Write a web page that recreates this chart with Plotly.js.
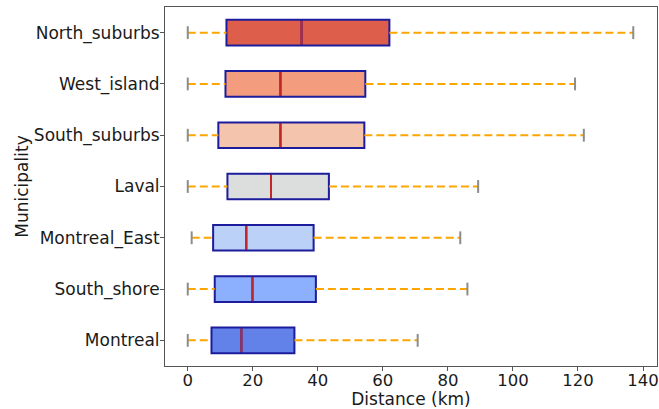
<!DOCTYPE html>
<html>
<head>
<meta charset="utf-8">
<script src="https://cdn.plot.ly/plotly-3.0.1.min.js"></script>
<style>html,body{margin:0;padding:0;background:#fff;}#chart{width:659px;height:409px;}</style>
</head>
<body>
<div id="chart"></div>
<script>
// Data (bottom to top)
const municipalities = ["Montreal", "South_shore", "Montreal_East", "Laval", "South_suburbs", "West_island", "North_suburbs"];
const whiskerLow  = [0.0, 0.0, 1.2, 0.0, 0.0, 0.0, 0.0];
const q1Values    = [7.3, 8.3, 7.8, 12.2, 9.4, 11.6, 11.9];
const medians     = [16.5, 19.9, 18.0, 25.6, 28.5, 28.5, 35.0];
const q3Values    = [32.8, 39.4, 38.7, 43.4, 54.3, 54.6, 62.0];
const whiskerHigh = [70.7, 86.0, 83.8, 89.3, 121.8, 119.1, 137.0];
const boxColors   = ["#6282ea", "#8caffe", "#bbd1f8", "#dcdddd", "#f5c4ad", "#f39c7e", "#dc5e4b"];
const xTicks = [0, 20, 40, 60, 80, 100, 120, 140];

const BOX_W = 0.5, CAP_W = 0.25;
const font = "DejaVu Sans, sans-serif";
const traces = [];

municipalities.forEach((m, i) => {
  traces.push({
    type: "box", orientation: "h", name: m, showlegend: false,
    y: [i], q1: [q1Values[i]], median: [medians[i]], q3: [q3Values[i]],
    lowerfence: [q1Values[i]], upperfence: [q3Values[i]],
    width: BOX_W, whiskerwidth: 0,
    fillcolor: boxColors[i], line: {color: "#1c1c9c", width: 2},
    hoverinfo: "skip"
  });
});
municipalities.forEach((m, i) => {
  traces.push({
    type: "scatter", mode: "lines", showlegend: false, hoverinfo: "skip",
    x: [whiskerLow[i], q1Values[i], null, q3Values[i], whiskerHigh[i]],
    y: [i, i, null, i, i],
    line: {color: "#ffa500", width: 2, dash: "8px,4px"}
  });
  traces.push({
    type: "scatter", mode: "lines", showlegend: false, hoverinfo: "skip",
    x: [whiskerLow[i], whiskerLow[i], null, whiskerHigh[i], whiskerHigh[i]],
    y: [i - CAP_W / 2, i + CAP_W / 2, null, i - CAP_W / 2, i + CAP_W / 2],
    line: {color: "#8c8c8c", width: 2}
  });
  traces.push({
    type: "scatter", mode: "lines", showlegend: false, hoverinfo: "skip",
    x: [medians[i], medians[i]],
    y: [i - BOX_W / 2 + 0.02, i + BOX_W / 2 - 0.02],
    line: {color: "#c0282a", width: 2}
  });
});

const layout = {
  width: 659, height: 409,
  margin: {l: 165, r: 2, t: 7, b: 43},
  paper_bgcolor: "#fff", plot_bgcolor: "#fff",
  font: {family: font, size: 17, color: "#1a1a1a"},
  showlegend: false,
  xaxis: {
    range: [-7.0, 144.3], tickvals: xTicks, ticktext: xTicks.map(String),
    showgrid: false, zeroline: false, showline: true, mirror: true,
    linecolor: "#555", linewidth: 1, ticks: "outside", ticklen: 4, tickcolor: "#555",
    ticklabeloverflow: "allow", automargin: false, ticklabelstandoff: -5,
    tickfont: {size: 16.5, family: font},
    title: {text: "Distance (km)", font: {size: 17, family: font}, standoff: 3}
  },
  yaxis: {
    range: [-0.5, 6.5], tickvals: municipalities.map((_, i) => i), ticktext: municipalities,
    showgrid: false, zeroline: false, showline: true, mirror: true,
    linecolor: "#555", linewidth: 1, ticks: "outside", ticklen: 4, tickcolor: "#555",
    automargin: false, ticklabelstandoff: -3,
    tickfont: {size: 17, family: font},
    title: {text: "Municipality", font: {size: 17, family: font}, standoff: 0}
  }
};

Plotly.newPlot("chart", traces, layout, {staticPlot: true, displayModeBar: false});
</script>
</body>
</html>
